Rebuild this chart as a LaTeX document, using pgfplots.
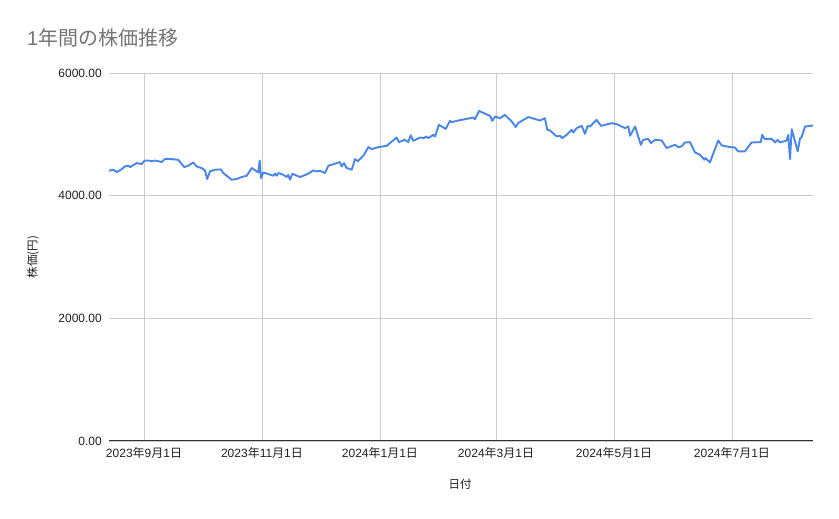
\documentclass[border=0pt]{standalone}
\usepackage{fontspec}
\setmainfont{Liberation Sans}
\newfontfamily\cjk{Noto Sans CJK JP}
\usepackage{pgfplots}
\pgfplotsset{compat=1.18}
\definecolor{line}{HTML}{4A86E8}
\definecolor{grid}{HTML}{CCCCCC}
\definecolor{titlec}{HTML}{757575}
\definecolor{txt}{HTML}{222222}
\newcommand{\dt}[3]{#1{\cjk 年}#2{\cjk 月}#3{\cjk 日}}
\begin{document}
\begin{tikzpicture}[x=1pt,y=1pt]
\useasboundingbox[fill=white] (0,0) rectangle (839,519);
\node[anchor=base west, text=titlec, inner sep=0pt, font=\fontsize{20}{24}\selectfont] at (27,473) {1{\cjk 年間の株価推移}};
\begin{axis}[
  at={(109pt,78pt)}, anchor=south west,
  width=704pt, height=368pt, scale only axis,
  xmin=-18.1, xmax=345.9, ymin=0, ymax=6000,
  xtick={0,61,122,182,243,304},
  xticklabels={\dt{2023}{9}{1},\dt{2023}{11}{1},\dt{2024}{1}{1},\dt{2024}{3}{1},\dt{2024}{5}{1},\dt{2024}{7}{1}},
  ytick={0,2000,4000,6000},
  yticklabels={0.00,2000.00,4000.00,6000.00},
  major tick length=0pt,
  grid=major,
  major grid style={draw=grid, line width=0.8pt},
  axis x line*=bottom, axis y line*=left,
  x axis line style={-, draw=black!80, line width=1pt},
  y axis line style={draw=none},
  tick label style={font=\fontsize{12}{14}\selectfont, text=txt},
  yticklabel style={inner sep=0pt, xshift=-7pt},
  xticklabel style={inner sep=0pt, anchor=center, yshift=-12pt},
  xlabel={\cjk 日付},
  ylabel={\cjk 株価(円)},
  xlabel style={at={(axis description cs:0.4986,-0.117)}, anchor=center, font=\fontsize{11.5}{13}\selectfont, text=txt},
  ylabel style={at={(axis description cs:-0.108,0.5)}, anchor=center, rotate=0, font=\fontsize{11.5}{13}\selectfont, text=txt},
  clip=false,
]
\addplot[line, line width=1.9pt, line join=round, no marks] coordinates {
(-18.1,4406)(-15.9,4423)(-14.1,4385)(-12.4,4412)(-9.8,4477)(-8.1,4488)(-7.2,4466)(-3.8,4531)(-1.2,4515)
(0.2,4569)(2.2,4574)(4.0,4561)(5.7,4574)(9.2,4548)(10.9,4601)(14.3,4596)(17.7,4585)(20.8,4466)(22.9,4488)
(25.5,4542)(27.2,4477)(29.8,4450)(31.5,4412)(32.7,4271)(34.1,4396)(36.7,4423)(39.7,4428)(41.0,4369)(45.3,4260)
(47.9,4271)(50.5,4304)(53.1,4325)(55.7,4450)(59.1,4379)(59.8,4574)(60.5,4287)(61.7,4379)(64.3,4352)(66.8,4325)
(67.7,4358)(68.6,4325)(69.4,4369)(72.0,4341)(73.8,4304)(74.6,4341)(75.5,4260)(76.7,4358)(80.7,4304)(82.4,4325)
(84.9,4358)(87.5,4412)(89.3,4396)(91.0,4406)(93.6,4369)(95.3,4488)(98.7,4520)(101.3,4548)(102.2,4477)(103.4,4531)
(104.8,4450)(107.4,4423)(109.1,4596)(110.5,4561)(113.4,4650)(116.0,4791)(117.7,4759)(121.1,4791)(125.5,4813)
(130.6,4948)(131.8,4873)(134.9,4911)(136.6,4873)(137.9,4984)(139.2,4894)(142.7,4948)(144.8,4938)(145.8,4965)
(147.0,4938)(149.6,4992)(150.5,4965)(152.5,5154)(156.0,5089)(158.2,5220)(159.1,5198)(161.7,5220)(166.0,5247)
(170.3,5274)(171.1,5247)(173.2,5382)(178.9,5301)(180.1,5220)(181.5,5290)(184.1,5263)(186.6,5317)(190.1,5211)
(192.2,5119)(193.5,5185)(198.7,5282)(204.7,5225)(207.3,5263)(208.5,5073)(209.9,5062)(213.4,4965)(215.1,4976)
(216.3,4938)(218.5,4992)(221.1,5073)(222.0,5030)(223.7,5101)(226.3,5138)(228.0,5008)(229.4,5138)(230.6,5127)
(234.0,5236)(236.3,5138)(241.8,5182)(244.4,5166)(248.7,5101)(250.4,5127)(251.3,4976)(253.9,5127)(256.9,4829)
(258.1,4911)(260.7,4927)(262.1,4857)(264.2,4911)(267.7,4900)(270.2,4776)(274.5,4829)(276.3,4791)(278.0,4803)
(279.7,4867)(282.3,4873)(284.9,4704)(287.5,4667)(289.7,4585)(290.4,4612)(292.6,4542)(296.9,4900)(298.7,4819)
(303.0,4791)(305.5,4786)(307.2,4721)(310.7,4721)(314.1,4867)(318.9,4873)(319.6,4992)(321.0,4922)(324.5,4927)
(326.3,4867)(327.6,4911)(328.8,4867)(332.3,4900)(333.1,4992)(334.0,4596)(334.9,5084)(338.0,4721)(339.2,4938)
(340.0,4954)(341.8,5127)(345.9,5144)
};
\end{axis}
\end{tikzpicture}
\end{document}
